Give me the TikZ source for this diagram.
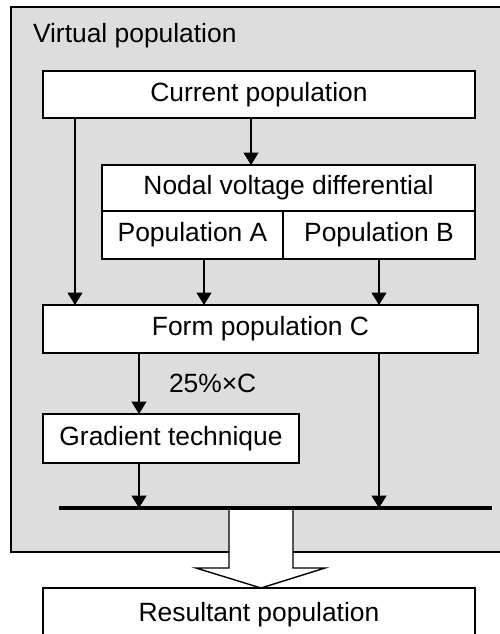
\documentclass[tikz,border=0pt]{standalone}
\usepackage{fontspec}
\setmainfont{Liberation Sans}
\usetikzlibrary{arrows.meta,calc}
\definecolor{panelgray}{RGB}{221,221,221}
\begin{document}
\begin{tikzpicture}[x=1pt,y=-1pt,
  every node/.style={font=\fontsize{26.4}{31}\selectfont, inner sep=0pt, outer sep=0pt},
  box/.style={draw=black, line width=1.4pt, fill=white, rectangle,
    text height=19.2pt, text depth=5.5pt},
  arr/.style={line width=1.4pt, -{Triangle[width=15pt,length=12.5pt]}},
  bar/.style={line width=4pt},
]
\useasboundingbox (0,0) rectangle (499,634);
% outer panel
\node[draw=black, line width=1.4pt, fill=panelgray, minimum width=494pt, minimum height=545pt] (panel) at (258,279.5) {};
\node[anchor=base west] (title) at (33,43) {Virtual population};
% boxes
\node[box, minimum width=432pt, minimum height=47pt] (cur) at (259,94.5) {Current population};
\node[box, minimum width=373pt, minimum height=46pt] (nodal) at (288.5,188) {Nodal voltage differential};
\node[box, minimum width=181pt, minimum height=48pt] (popA) at (192.5,235) {Population A};
\node[box, minimum width=192pt, minimum height=48pt] (popB) at (379,235) {Population B};
\node[box, minimum width=435pt, minimum height=48pt] (formC) at (260.5,329) {Form population C};
\node[box, minimum width=256pt, minimum height=49pt] (grad) at (171,438.5) {Gradient technique};
\node[box, minimum width=432pt, minimum height=53pt] (res) at (259,614.5) {Resultant population};
% x positions of connectors
\coordinate (xL) at (75,0);
\coordinate (xM) at (251,0);
\coordinate (xA) at (204,0);
\coordinate (xG) at (139,0);
\coordinate (barL) at (59,508);
\coordinate (barR) at (492,508);
% connectors
\draw[arr] (xL |- cur.south) -- (xL |- formC.north);
\draw[arr] (xM |- cur.south) -- (xM |- nodal.north);
\draw[arr] (xA |- popA.south) -- (xA |- formC.north);
\draw[arr] (popB.south) -- (popB.south |- formC.north);
\draw[arr] (xG |- formC.south) -- (xG |- grad.north);
\node[anchor=base west] (pct) at (169,392) {25\%×C};
\draw[arr] (xG |- grad.south) -- (xG |- barL);
\draw[arr] (popB.south |- formC.south) -- (popB.south |- barL);
% big arrow to result
\draw[line width=1.4pt, fill=white, line join=miter]
  (229,508) -- (229,568) -- (196,568) -- (res.north -| 261,0) -- (325,568) -- (293,568) -- (293,508) -- cycle;
\draw[bar] (barL) -- (barR);
\end{tikzpicture}
\end{document}
